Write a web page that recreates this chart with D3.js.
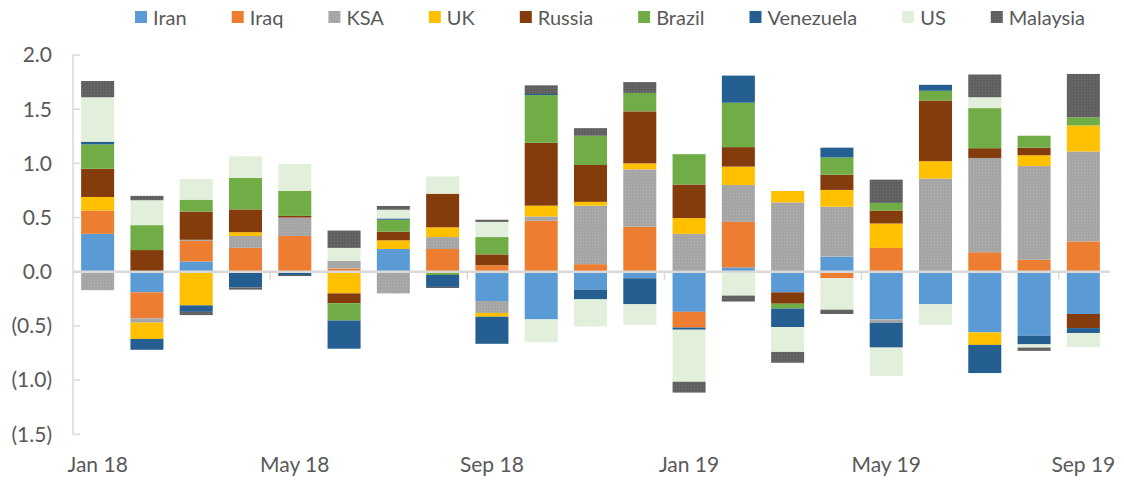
<!DOCTYPE html>
<html>
<head>
<meta charset="utf-8">
<script src="https://cdn.jsdelivr.net/npm/d3@7"></script>
<style>
  body { margin: 0; background: #fff; }
  svg text { font-family: Lato, sans-serif; fill: #595959; }
</style>
</head>
<body>
<div id="chart"></div>
<script>
// monthly contributions, stacked (positive up, negative down)
const months = ["Jan 18","Feb 18","Mar 18","Apr 18","May 18","Jun 18","Jul 18","Aug 18","Sep 18","Oct 18","Nov 18","Dec 18",
                "Jan 19","Feb 19","Mar 19","Apr 19","May 19","Jun 19","Jul 19","Aug 19","Sep 19"];
const countries = ["Iran","Iraq","KSA","UK","Russia","Brazil","Venezuela","US","Malaysia"];

const iran      = [0.35,-0.19,0.095,0,0,0,0.21,0,-0.27,-0.44,-0.165,-0.06,-0.37,0.04,-0.19,0.14,-0.44,-0.30,-0.56,-0.59,-0.39];
const iraq      = [0.215,-0.24,0.19,0.22,0.33,0.03,-0.01,0.21,0.06,0.47,0.07,0.415,-0.145,0.42,0,-0.06,0.22,0,0.18,0.11,0.28];
const ksa       = [-0.17,-0.04,0.01,0.11,0.17,0.07,-0.19,0.11,-0.11,0.04,0.54,0.53,0.35,0.34,0.64,0.46,-0.03,0.86,0.87,0.865,0.83];
const uk        = [0.125,-0.15,-0.31,0.035,-0.01,-0.20,0.08,0.09,-0.035,0.10,0.035,0.055,0.145,0.17,0.105,0.155,0.225,0.16,-0.115,0.10,0.24];
const russia    = [0.26,0.20,0.26,0.21,0.015,-0.09,0.08,0.31,0.10,0.58,0.34,0.48,0.31,0.18,-0.105,0.14,0.12,0.56,0.09,0.07,-0.13];
const brazil    = [0.225,0.23,0.11,0.29,0.23,-0.16,0.11,-0.03,0.16,0.44,0.27,0.17,0.28,0.41,-0.045,0.16,0.07,0.09,0.37,0.11,0.075];
const venezuela = [0.025,-0.10,-0.06,-0.145,-0.02,-0.26,0.012,-0.11,-0.25,0.01,-0.09,-0.24,-0.02,0.25,-0.17,0.09,-0.23,0.055,-0.26,-0.08,-0.045];
const us        = [0.41,0.23,0.19,0.20,0.25,0.12,0.08,0.16,0.14,-0.21,-0.25,-0.19,-0.48,-0.22,-0.23,-0.29,-0.26,-0.19,0.10,-0.03,-0.13];
const malaysia  = [0.15,0.04,-0.03,-0.02,-0.01,0.16,0.035,-0.01,0.02,0.08,0.07,0.10,-0.10,-0.055,-0.10,-0.04,0.215,0,0.21,-0.03,0.40];

const yTicks = [2.0, 1.5, 1.0, 0.5, 0, -0.5, -1.0, -1.5];

const seriesValues = [iran, iraq, ksa, uk, russia, brazil, venezuela, us, malaysia];
const colors = ["#5b9bd5","#ed7d31","#a5a5a5","#ffc000","#843c0c","#70ad47","#255e91","#e2efda","#636363"];

const width = 1124, height = 481;

// build rows for d3.stack
const rows = months.map((m, i) => {
  const r = { month: m };
  countries.forEach((c, j) => { r[c] = seriesValues[j][i]; });
  return r;
});

const stacked = d3.stack()
  .keys(countries)
  .offset(d3.stackOffsetDiverging)(rows);

const svg = d3.select("#chart").append("svg")
  .attr("width", width)
  .attr("height", height);

// dotted textures for KSA and Malaysia like the excel fills
const defs = svg.append("defs");
function dotPattern(id, base, dot) {
  const p = defs.append("pattern").attr("id", id)
    .attr("width", 3).attr("height", 3).attr("patternUnits", "userSpaceOnUse");
  p.append("rect").attr("width", 3).attr("height", 3).attr("fill", base);
  p.append("rect").attr("x", 1).attr("y", 1).attr("width", 1).attr("height", 1).attr("fill", dot);
}
dotPattern("pat-ksa", "#a5a5a5", "#b3b3b3");
dotPattern("pat-mal", "#606060", "#727272");
const fills = colors.slice();
fills[2] = "url(#pat-ksa)";
fills[8] = "url(#pat-mal)";

const x = d3.scaleBand()
  .domain(months)
  .range([73, 1108])
  .paddingInner(0.33)
  .paddingOuter(0.165);

const y = d3.scaleLinear()
  .domain([-1.5, 2.0])
  .range([434.3, 55]);

const fmt = v => {
  const s = Math.abs(v).toFixed(1);
  return v < 0 ? "(" + s + ")" : s;
};

// y axis
const yAxis = svg.append("g");
yAxis.append("line")
  .attr("x1", 73).attr("x2", 73)
  .attr("y1", y(2.0)).attr("y2", y(-1.5))
  .attr("stroke", "#d9d9d9").attr("stroke-width", 1.5);
yAxis.selectAll(".yt").data(yTicks).enter().append("line")
  .attr("x1", 73).attr("x2", 80)
  .attr("y1", d => y(d)).attr("y2", d => y(d))
  .attr("stroke", "#d9d9d9").attr("stroke-width", 1.5);
yAxis.selectAll(".yl").data(yTicks).enter().append("text")
  .attr("x", 52).attr("y", d => y(d))
  .attr("dy", "0.35em")
  .attr("text-anchor", "end")
  .style("font-size", "21px")
  .text(fmt);

// bars
svg.append("g").selectAll("g")
  .data(stacked)
  .enter().append("g")
    .attr("fill", (d, i) => fills[i])
  .selectAll("rect")
  .data(d => d)
  .enter().append("rect")
    .attr("x", d => x(d.data.month))
    .attr("width", x.bandwidth())
    .attr("y", d => y(Math.max(d[0], d[1])))
    .attr("height", d => Math.abs(y(d[0]) - y(d[1])));

// zero line + category ticks
svg.append("line")
  .attr("x1", 73).attr("x2", 1110)
  .attr("y1", y(0)).attr("y2", y(0))
  .attr("stroke", "#d9d9d9").attr("stroke-width", 2.5);

const labelled = months.filter((m, i) => i % 4 === 0);
svg.append("g").selectAll("line")
  .data(labelled.slice(1))
  .enter().append("line")
    .attr("x1", d => x(d) - x.step() * x.paddingInner() / 2)
    .attr("x2", d => x(d) - x.step() * x.paddingInner() / 2)
    .attr("y1", y(0)).attr("y2", y(0) + 8)
    .attr("stroke", "#d9d9d9").attr("stroke-width", 1.5);

svg.append("g").selectAll("text")
  .data(labelled)
  .enter().append("text")
    .attr("x", d => x(d) + x.bandwidth() / 2)
    .attr("y", 472)
    .attr("text-anchor", "middle")
    .style("font-size", "21px")
    .text(d => d);

// legend
const legend = svg.append("g");
let lx = 0;
countries.forEach((c, i) => {
  const item = legend.append("g").attr("transform", "translate(" + lx + ",0)");
  item.append("rect")
    .attr("x", 0).attr("y", 11)
    .attr("width", 12).attr("height", 12)
    .attr("fill", fills[i]);
  const t = item.append("text")
    .attr("x", 18).attr("y", 24.5)
    .style("font-size", "20px")
    .text(c);
  lx += 18 + t.node().getComputedTextLength() + 45;
});
const legendW = lx - 45;
legend.attr("transform", "translate(" + (610 - legendW / 2) + ",0)");
</script>
</body>
</html>
